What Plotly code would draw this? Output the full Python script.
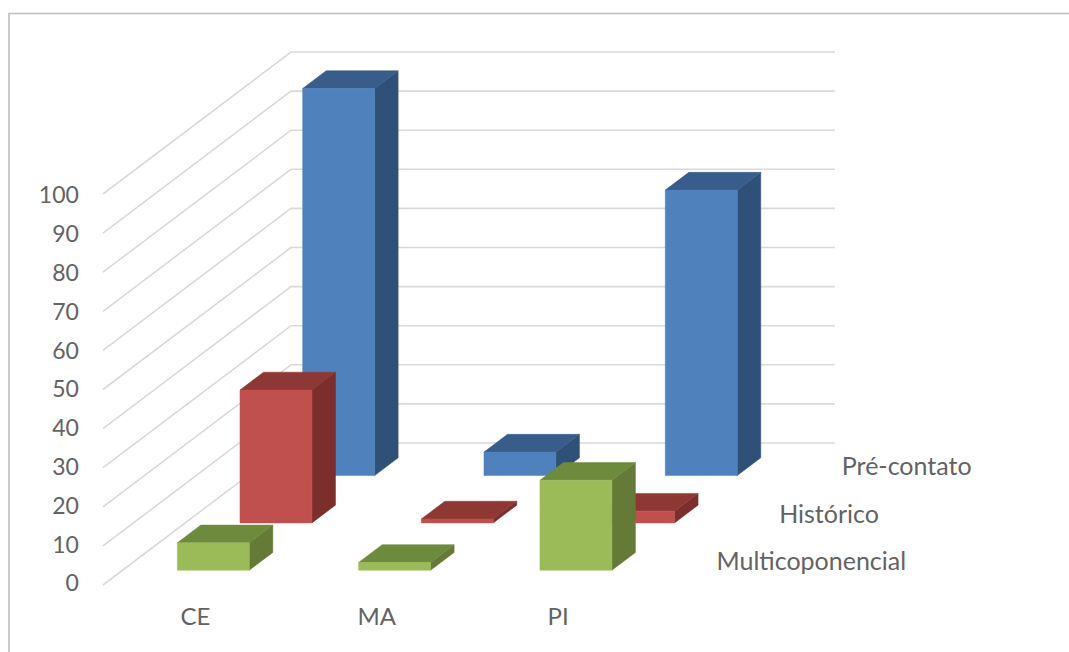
import plotly.graph_objects as go

# Chart data
categories = ["CE", "MA", "PI"]
series_names = ["Multicoponencial", "Histórico", "Pré-contato"]
multicoponencial = [7, 2, 23]
historico = [34, 1, 3]
pre_contato = [99, 6, 73]
value_ticks = [0, 10, 20, 30, 40, 50, 60, 70, 80, 90, 100]

# Figure size and oblique projection of the 3D box
W, H = 1069, 652
PX_PER_CAT = 181.3
PX_PER_UNIT = 3.91
ORIGIN_PX = (103, 585)
ROW_PX = (62.67, 47.33)
SKEW_X = ROW_PX[0] / PX_PER_CAT
SKEW_Y = ROW_PX[1] / PX_PER_UNIT
BAR_C = (0.302, 0.699)
BAR_R = (0.3125, 0.6875)

x_range = [-ORIGIN_PX[0] / PX_PER_CAT, (W - ORIGIN_PX[0]) / PX_PER_CAT]
y_range = [(ORIGIN_PX[1] - H) / PX_PER_UNIT, ORIGIN_PX[1] / PX_PER_UNIT]


def project(c, r, v):
    """Map category, depth row and value to the skewed plane."""
    return c + SKEW_X * r, v + SKEW_Y * r


def polygon(corners, color):
    pts = [project(*p) for p in corners]
    pts.append(pts[0])
    return go.Scatter(
        x=[p[0] for p in pts], y=[p[1] for p in pts],
        mode="lines", fill="toself", fillcolor=color,
        line=dict(color=color, width=0.5), hoverinfo="skip", showlegend=False,
    )


def grid_line(points):
    pts = [project(*p) for p in points]
    return go.Scatter(
        x=[p[0] for p in pts], y=[p[1] for p in pts], mode="lines",
        line=dict(color="#d9d9d9", width=1.6), hoverinfo="skip", showlegend=False,
    )


def labels(xs, ys, texts, position, size):
    return go.Scatter(
        x=xs, y=ys, text=texts, mode="text", textposition=position,
        textfont=dict(family="Lato", size=size, color="#636363"),
        hoverinfo="skip", showlegend=False, cliponaxis=False,
    )


fig = go.Figure()

# Walls: side wall and back wall gridlines
for v in value_ticks:
    fig.add_trace(grid_line([(0, 0, v), (0, 3, v), (3, 3, v)]))

# Bars from the back row to the front row
rows = [
    (2, pre_contato, "#4f81bd", "#385d8a", "#2f5077"),
    (1, historico, "#c0504d", "#8e3836", "#7c2e2c"),
    (0, multicoponencial, "#9bbb59", "#6e8a3c", "#647a36"),
]
for row, values, front, top, side in rows:
    r0, r1 = row + BAR_R[0], row + BAR_R[1]
    for i, v in enumerate(values):
        c0, c1 = i + BAR_C[0], i + BAR_C[1]
        fig.add_trace(polygon([(c1, r0, 0), (c1, r1, 0), (c1, r1, v), (c1, r0, v)], side))
        fig.add_trace(polygon([(c0, r0, v), (c1, r0, v), (c1, r1, v), (c0, r1, v)], top))
        fig.add_trace(polygon([(c0, r0, 0), (c1, r0, 0), (c1, r0, v), (c0, r0, v)], front))

# Value axis labels, right-aligned beside the side wall
tick_c = -0.133
fig.add_trace(labels(
    [tick_c] * len(value_ticks),
    [v * 0.992 - 0.15 for v in value_ticks],
    [str(v) for v in value_ticks],
    "middle left",
    23,
))

# Category labels under the floor
fig.add_trace(labels(
    [i + 0.51 for i in range(len(categories))],
    [-8.8] * len(categories),
    categories,
    "middle center",
    24,
))

# Series labels stepping back along the depth axis
series_pts = [project(3, r + 1.11, -8.0) for r in range(len(series_names))]
fig.add_trace(labels(
    [p[0] for p in series_pts], [p[1] for p in series_pts], series_names, "middle right", 25,
))

fig.update_layout(
    width=W, height=H,
    margin=dict(l=0, r=0, t=0, b=0),
    paper_bgcolor="white", plot_bgcolor="white",
    showlegend=False,
    xaxis=dict(range=x_range, visible=False, fixedrange=True),
    yaxis=dict(range=y_range, visible=False, fixedrange=True),
    shapes=[
        dict(type="path", xref="paper", yref="paper",
             path=f"M {9 / W} 0 L {9 / W} {1 - 13.5 / H} L 1 {1 - 13.5 / H}",
             line=dict(color="#bfbfbf", width=1.6)),
    ],
)

fig.write_html("out.html", config={"displayModeBar": False})
